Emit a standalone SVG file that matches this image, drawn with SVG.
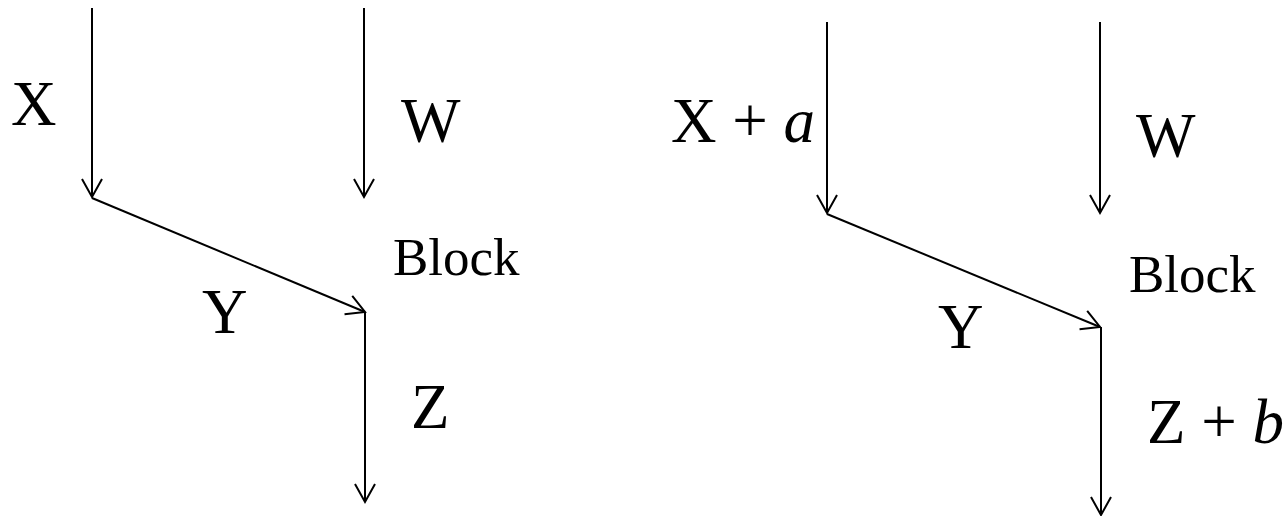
<svg xmlns="http://www.w3.org/2000/svg" width="1287" height="516" viewBox="0 0 1287 516">
<style>
.ln{stroke:#000;stroke-width:2;fill:none}
.t{font-family:"Liberation Serif","Times New Roman",serif;fill:#000}
.big{font-size:63px}
.blk{font-size:53px}
.it{font-style:italic}
</style>
<defs>
<marker id="ah" markerUnits="userSpaceOnUse" markerWidth="40" markerHeight="40" viewBox="-20 -20 40 40" refX="0" refY="0" orient="auto">
<path d="M -18 -10 L 0 0 L -18 10" stroke="#000" stroke-width="2" fill="none"/>
</marker>
</defs>
<rect width="1287" height="516" fill="#fff"/>
<g id="connectors">
<line class="ln" x1="92" y1="8" x2="92" y2="197" marker-end="url(#ah)"/>
<line class="ln" x1="364" y1="8" x2="364" y2="197" marker-end="url(#ah)"/>
<line class="ln" x1="92" y1="198" x2="365" y2="312" marker-end="url(#ah)"/>
<line class="ln" x1="365" y1="312" x2="365" y2="502" marker-end="url(#ah)"/>
<line class="ln" x1="827" y1="22" x2="827" y2="213" marker-end="url(#ah)"/>
<line class="ln" x1="1100" y1="22" x2="1100" y2="213" marker-end="url(#ah)"/>
<line class="ln" x1="827" y1="214" x2="1100" y2="327" marker-end="url(#ah)"/>
<line class="ln" x1="1101" y1="327" x2="1101" y2="515" marker-end="url(#ah)"/>
</g>
<g id="left">
<text class="t big" x="11" y="125">X</text>
<text class="t big" x="401" y="142">W</text>
<text class="t blk" x="393" y="275">Block</text>
<text class="t big" x="202" y="333">Y</text>
<text class="t big" x="411" y="428">Z</text>
</g>
<g id="right">
<text class="t big" x="671" y="142">X + <tspan class="it">a</tspan></text>
<text class="t big" x="1136" y="157">W</text>
<text class="t blk" x="1129" y="292">Block</text>
<text class="t big" x="938" y="348">Y</text>
<text class="t big" x="1147" y="443">Z + <tspan class="it">b</tspan></text>
</g>
</svg>
